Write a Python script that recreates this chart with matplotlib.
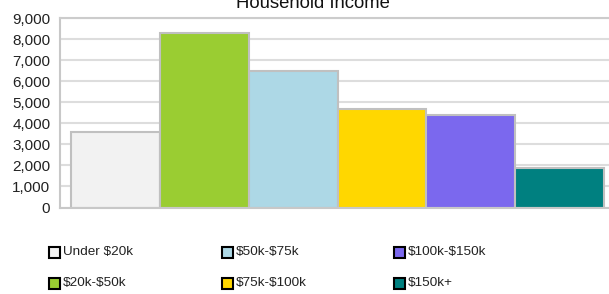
import matplotlib.pyplot as plt
from matplotlib.patches import Rectangle

categories = ['Under $20k', '$20k-$50k', '$50k-$75k', '$75k-$100k', '$100k-$150k', '$150k+']
households = [3600, 8300, 6500, 4700, 4400, 1900]
colors = ['#f2f2f2', '#9acd32', '#add8e6', '#ffd700', '#7b68ee', '#008080']
yticks = [0, 1000, 2000, 3000, 4000, 5000, 6000, 7000, 8000, 9000]

plt.rcParams['font.family'] = ['Liberation Sans', 'DejaVu Sans']

fig = plt.figure(figsize=(6.09, 2.94), dpi=100)
ax = fig.add_axes([60 / 609, 1 - 207.5 / 294, 549 / 609, (207.5 - 18.3) / 294])

x = list(range(len(categories)))
ax.bar(x, households, width=1.0, color=colors, edgecolor='#c0c0c0', linewidth=1.5, zorder=2)

ax.set_xlim(-0.624, 5.556)
ax.set_ylim(0, 9000)
ax.set_yticks(yticks)
ax.set_yticklabels(['{:,}'.format(v) for v in yticks], fontsize=11, color='#222222')
ax.set_xticks([])
ax.tick_params(axis='y', length=0, pad=7)
ax.yaxis.grid(True, color='#dddddd', linewidth=1.5, zorder=0)
ax.set_axisbelow(True)

ax.spines['right'].set_visible(False)
ax.spines['top'].set_color('#cccccc')
ax.spines['top'].set_linewidth(1.5)
ax.spines['left'].set_color('#c8c8c8')
ax.spines['left'].set_linewidth(1.5)
ax.spines['bottom'].set_color('#c8c8c8')
ax.spines['bottom'].set_linewidth(1.5)

fig.text(313 / 609, 1 - 8 / 294, 'Household Income', ha='center', va='baseline',
         fontsize=13.3, color='#111111')

# legend, filled column by column
col_x = [49, 222, 394]
row_y = [252, 283]
for i, (name, c) in enumerate(zip(categories, colors)):
    px = col_x[i // 2]
    py = row_y[i % 2]
    fig.patches.append(Rectangle((px / 609, 1 - (py + 5.5) / 294), 11 / 609, 11 / 294,
                                 transform=fig.transFigure, facecolor=c,
                                 edgecolor='black', linewidth=1.5))
    fig.text((px + 14) / 609, 1 - py / 294, name, ha='left', va='center',
             fontsize=9.7, color='#222222', parse_math=False)

fig.savefig('out.png', dpi=100)
